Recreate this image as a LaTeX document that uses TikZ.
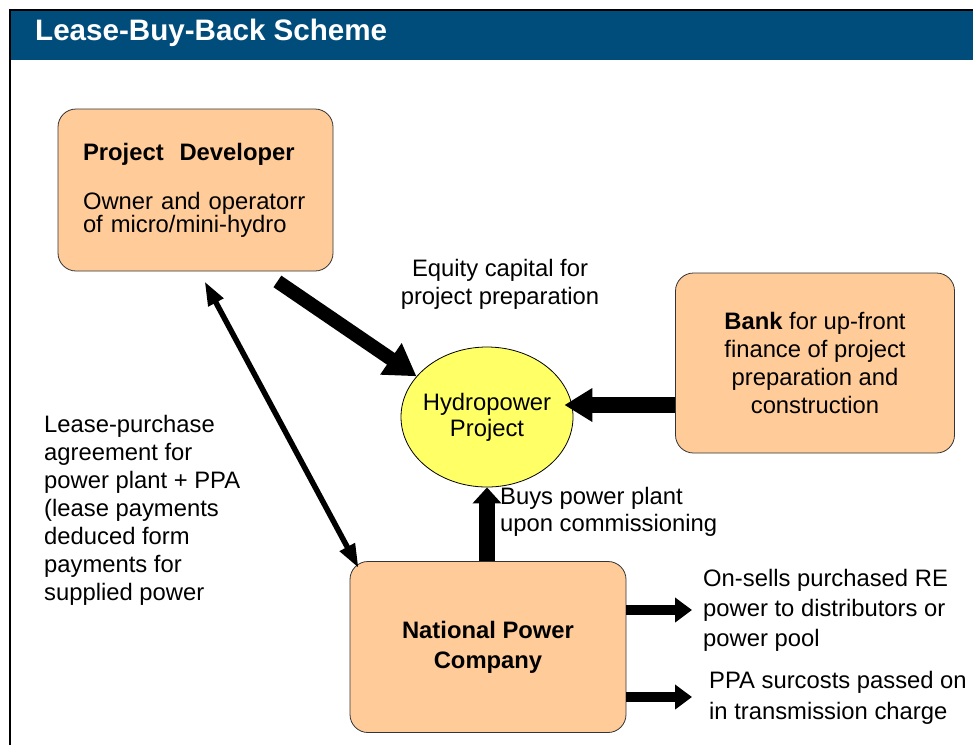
\documentclass[tikz,border=0pt]{standalone}
\usepackage{fontspec}
\setmainfont{Liberation Sans}
\usetikzlibrary{shapes.geometric, arrows.meta, positioning, calc}
\definecolor{Peach}{HTML}{FFCC99}
\definecolor{Lemon}{HTML}{FFFF66}
\definecolor{Navy}{HTML}{004C7A}
\definecolor{Edge}{HTML}{333333}
\newcommand{\bodysize}{\fontsize{23.8}{28}\selectfont}

\tikzset{
  party/.style={rectangle, rounded corners=18pt, draw=Edge, line width=0.8pt,
                fill=Peach, font=\bodysize},
  note/.style={inner sep=0pt, font=\bodysize},
  fatarrow/.style={line width=16pt, -{Triangle[length=28pt,width=32pt]}},
  uparrow/.style={line width=16pt, -{Triangle[length=16pt,width=28pt]}},
  smallarrow/.style={line width=10pt, -{Triangle[length=17pt,width=24pt]}},
  deal/.style={line width=5.5pt, {Triangle[length=24pt,width=16pt]}-{Triangle[length=24pt,width=16pt]}}
}

\begin{document}
\begin{tikzpicture}[x=1pt, y=-1pt]
    \useasboundingbox (0,0) rectangle (973,745);

    % Frame and title bar
    \fill[Navy] (11,11) rectangle (973,60);
    \draw[line width=2pt] (10,745) -- (10,10) -- (973,10);
    \node[anchor=base west, inner sep=0pt, text=white,
          font=\fontsize{29.6}{30}\selectfont\bfseries] (title) at (35,40) {Lease-Buy-Back Scheme};

    % Parties
    \node[party, minimum width=275pt, minimum height=162pt, text width=225pt,
          align=left, font=\fontsize{23.8}{23}\selectfont] (dev) at (195.5,190) {
        \textbf{Project\ \ Developer}\\[26pt]
        Owner and operatorr\\
        of micro/mini-hydro
    };

    \node[party, minimum width=279pt, minimum height=180pt, align=center] (bank) at (815,363) {
        \textbf{Bank} for up-front\\finance of project\\preparation and\\construction
    };

    \node[ellipse, draw=black, line width=0.8pt, fill=Lemon, inner xsep=-8pt, inner ysep=0pt,
          minimum width=172pt, minimum height=140pt, align=center,
          font=\fontsize{23.8}{26}\selectfont] (hydro) at (487,417) {
        Hydropower\\Project
    };

    \node[party, minimum width=276pt, minimum height=171pt, align=center,
          font=\fontsize{23.8}{30}\selectfont\bfseries] (npc) at (488,647) {
        National Power\\Company
    };

    % Labels
    \node[note, align=center] (equity) at (500,284) {Equity capital for\\project preparation};
    \node[note, align=left, anchor=west] (lease) at (44,510) {
        Lease-purchase\\agreement for\\power plant + PPA\\(lease payments\\deduced form\\payments for\\supplied power
    };
    \node[note, align=left, anchor=west, font=\fontsize{23.8}{27}\selectfont] (buys) at (500,512) {
        Buys power plant\\upon commissioning
    };
    \node[note, align=left, anchor=west, font=\fontsize{23.8}{30}\selectfont] (onsells) at (703,610) {
        On-sells purchased RE\\power to distributors or\\power pool
    };
    \node[note, align=left, anchor=west, font=\fontsize{23.8}{31}\selectfont] (surcosts) at (709,698) {
        PPA surcosts passed on\\in transmission charge
    };

    % Flows
    \coordinate (sell) at (692,610);
    \coordinate (pass) at (692,697);
    \draw[line width=14pt, -{Triangle[length=31pt,width=36pt]}]
        ([xshift=-56pt,yshift=-10pt]dev.south east) -- (hydro.150);
    \draw[fatarrow] ($(bank.west)+(0,42)$) -- ($(bank.west -| hydro.east)+(-9,42)$);
    \draw[uparrow] (npc.north -| hydro.south) -- (hydro.south);
    \draw[deal] ([xshift=147pt,yshift=-10pt]dev.south west) -- ([xshift=9pt,yshift=-7pt]npc.north west);
    \draw[smallarrow] (npc.east |- sell) -- (sell);
    \draw[smallarrow] (npc.east |- pass) -- (pass);
\end{tikzpicture}
\end{document}
